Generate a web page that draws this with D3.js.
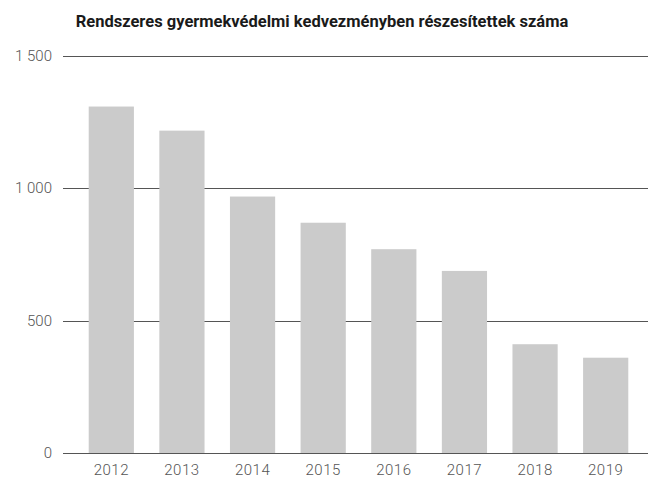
<!DOCTYPE html>
<html>
<head>
<meta charset="utf-8">
<script src="https://cdn.jsdelivr.net/npm/d3@7"></script>
<style>
  body { margin: 0; background: #fff; }
  #chart text { font-family: Roboto, "Noto Sans", sans-serif; }
</style>
</head>
<body>
<div id="chart"></div>
<script>
// Data
const years = ["2012", "2013", "2014", "2015", "2016", "2017", "2018", "2019"];
const counts = [1309, 1218, 969, 870, 770, 688, 411, 360];
const yTicks = [0, 500, 1000, 1500];
const title = "Rendszeres gyermekvédelmi kedvezményben részesítettek száma";

const width = 650,
  height = 479;

const svg = d3
  .select("#chart")
  .append("svg")
  .attr("width", width)
  .attr("height", height);

const x = d3
  .scaleBand()
  .domain(years)
  .range([76, 641])
  .paddingInner(0.36)
  .paddingOuter(0.18);

const y = d3.scaleLinear().domain([0, 1500]).range([453, 56]);

const fmt = (v) => d3.format(",")(v).replace(/,/g, " ");

// Title
svg
  .append("text")
  .attr("x", 322)
  .attr("y", 27)
  .attr("text-anchor", "middle")
  .attr("font-size", 16.5)
  .attr("font-weight", "bold")
  .attr("fill", "#1a1a1a")
  .text(title);

// Gridlines
svg
  .selectAll(".grid")
  .data(yTicks)
  .join("line")
  .attr("class", "grid")
  .attr("x1", 63)
  .attr("x2", 648)
  .attr("y1", (d) => Math.round(y(d)) + 0.5)
  .attr("y2", (d) => Math.round(y(d)) + 0.5)
  .attr("stroke", "#555")
  .attr("stroke-width", 1.2);

// Y labels
svg
  .selectAll(".ylab")
  .data(yTicks)
  .join("text")
  .attr("class", "ylab")
  .attr("x", 52)
  .attr("y", (d) => y(d) + 5)
  .attr("text-anchor", "end")
  .attr("font-size", 15)
  .attr("font-weight", 300)
  .attr("fill", "#555")
  .text(fmt);

// Bars
svg
  .selectAll(".bar")
  .data(counts)
  .join("rect")
  .attr("class", "bar")
  .attr("x", (d, i) => x(years[i]))
  .attr("y", (d) => y(d))
  .attr("width", x.bandwidth())
  .attr("height", (d) => y(0) - y(d))
  .attr("fill", "#cbcbcb");

// X labels
svg
  .selectAll(".xlab")
  .data(years)
  .join("text")
  .attr("class", "xlab")
  .attr("x", (d) => x(d) + x.bandwidth() / 2)
  .attr("y", 475)
  .attr("text-anchor", "middle")
  .attr("font-size", 15)
  .attr("font-weight", 300)
  .attr("letter-spacing", 0.5)
  .attr("fill", "#555")
  .text((d) => d);
</script>
</body>
</html>
